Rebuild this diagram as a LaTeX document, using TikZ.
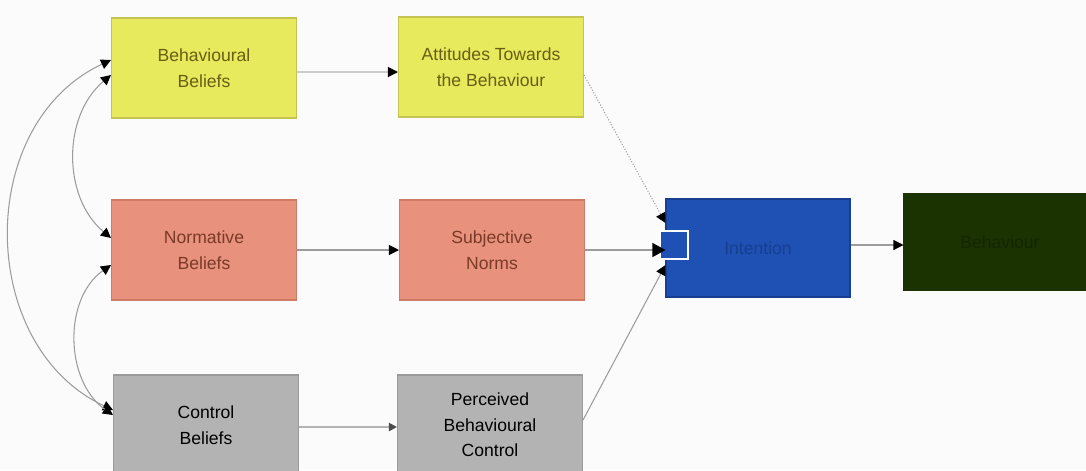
\documentclass[tikz,border=0pt]{standalone}
\usepackage{fontspec}
\setmainfont{Liberation Sans}
\usetikzlibrary{arrows.meta}
\definecolor{yelfill}{HTML}{E6EA5C}
\definecolor{yelline}{HTML}{C4C452}
\definecolor{yeltext}{HTML}{6A5E14}
\definecolor{salfill}{HTML}{E8917C}
\definecolor{salline}{HTML}{D07A66}
\definecolor{saltext}{HTML}{7A3A28}
\definecolor{grayfill}{HTML}{B3B3B3}
\definecolor{grayline}{HTML}{9A9A9A}
\definecolor{intfill}{HTML}{1F50B4}
\definecolor{inttext}{HTML}{163F8E}
\definecolor{behfill}{HTML}{1A3300}
\definecolor{behtext}{HTML}{132600}
\definecolor{linkgray}{HTML}{9C9C9C}
\tikzset{
  box/.style={rectangle, draw, line width=0.6pt, align=center,
    minimum width=3.7cm, minimum height=2cm,
    font=\fontsize{10}{14.5}\selectfont},
  yelbox/.style={box, fill=yelfill, draw=yelline, text=yeltext},
  salbox/.style={box, fill=salfill, draw=salline, text=saltext},
  graybox/.style={box, fill=grayfill, draw=grayline, text=black},
  link/.style={draw=linkgray, line width=0.6pt,
    -{Triangle[length=2mm,width=2mm,color=black]}},
  twoway/.style={link, {Triangle[length=2mm,width=2mm,color=black]}-{Triangle[length=2mm,width=2mm,color=black]}}
}
\begin{document}
\begin{tikzpicture}
      \fill[white!97!gray] (0,0) rectangle (21.72,-9.4);
      \useasboundingbox (0,0) rectangle (21.72,-9.4);
      \draw
        (4.08,-1.36) node[yelbox] (bb){Behavioural\\Beliefs}
        (9.82,-1.34) node[yelbox] (att){Attitudes Towards\\the Behaviour}
        (4.08,-5.0) node[salbox] (nb){Normative\\Beliefs}
        (9.84,-5.0) node[salbox] (sn){Subjective\\Norms}
        (4.12,-8.5) node[graybox] (cb){Control\\Beliefs}
        (9.8,-8.5) node[graybox] (pbc){Perceived\\Behavioural\\Control}
        (15.16,-4.96) node[box, fill=intfill, draw=intfill!80!black,
          text=inttext, minimum width=3.68cm, minimum height=1.96cm] (int){Intention}
        (20.0,-4.84) node[box, fill=behfill, draw=behfill, text=behtext,
          minimum width=3.84cm, minimum height=1.92cm] (beh){Behaviour};
      \node[rectangle, fill=intfill, draw=white, line width=0.8pt,
        minimum size=0.56cm, inner sep=0pt] (port) at (13.48,-4.9) {};
      \begin{scope}
        \draw[link, draw=linkgray!50] (bb.east |- 0,-1.44) -- (att.west |- 0,-1.44);
        \draw[link] (nb) -- (sn);
        \draw[link, draw=grayfill, line width=1.6pt,
          -{Triangle[length=1.6mm,width=1.6mm,color=black!70]}] (cb.east |- 0,-8.54) -- (pbc.west |- 0,-8.54);
        \draw[link, densely dotted] (att.east |- 0,-1.5) -- ([yshift=0.5cm]int.west);
        \draw[link, -{Triangle[length=2.6mm,width=2.8mm,color=black]}] (sn.east |- 0,-5.0) -- (int.west |- 0,-5.0);
        \draw[link] (pbc.east |- 0,-8.4) -- ([yshift=-0.34cm]int.west);
        \draw[link] (int.east |- 0,-4.9) -- (beh.west |- 0,-4.9);
        % curved links between the beliefs
        \draw[twoway] ([yshift=0.16cm]bb.west) to[out=205, in=155, looseness=1.1] ([yshift=0.3cm]cb.west);
        \draw[twoway] ([yshift=-0.14cm]bb.west) to[out=220, in=140] ([yshift=0.24cm]nb.west);
        \draw[twoway] ([yshift=-0.3cm]nb.west) to[out=215, in=145] ([yshift=0.2cm]cb.west);
      \end{scope}
    \end{tikzpicture}
\end{document}
